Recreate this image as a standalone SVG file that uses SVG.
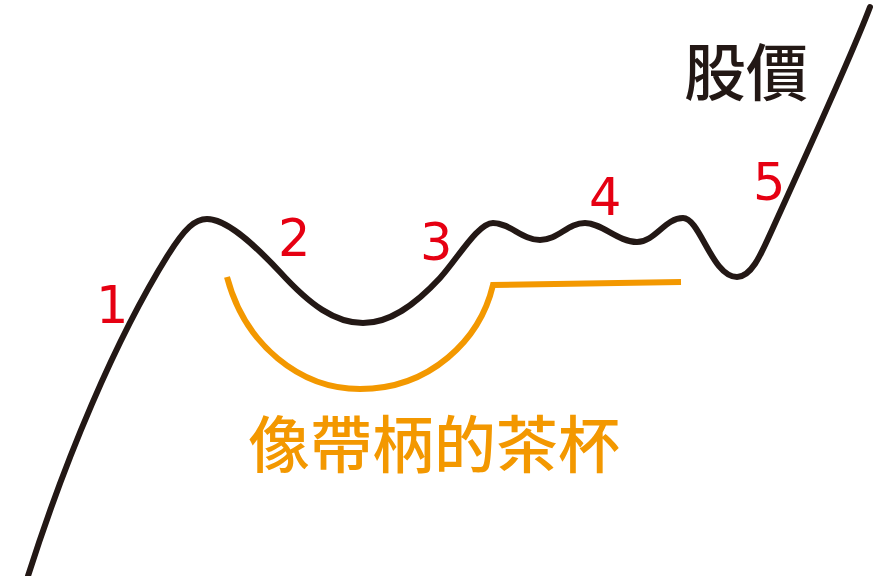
<svg xmlns="http://www.w3.org/2000/svg" width="879" height="576" viewBox="0 0 879 576">
<style>
.line{fill:none;stroke-linecap:round;stroke-width:6}
.price{stroke:#231815}
.cup{stroke:#F39800;stroke-linecap:butt}
.num{font-family:"DejaVu Sans","Liberation Sans",sans-serif;font-size:51px;fill:#E60012}
.cjk{font-family:"Noto Sans CJK TC","Noto Sans CJK SC",sans-serif;font-weight:500}
</style>
<rect width="879" height="576" fill="#ffffff"/>
<g id="curves">
<path class="line price" d="M28,576 C65,460 115,340 168,255 C185,228 195,219 207,219 C225,219 250,240 280,272 C310,305 335,323 363,323 C390,323 415,305 440,278 C458,258 478,223 493,223 C510,223 522,240 540,240 C558,240 568,223 585,223 C602,223 618,242 637,242 C655,242 665,218 683,218 C700,218 712,277 737,277 C752,277 762,252 772,230 C790,190 850,60 870,7"/>
<path class="line cup" d="M227,277 C245,345 300,389 360,389 C430,389 480,340 493,285 L681,282"/>
</g>
<g id="labels">
<text class="num" x="96" y="323">1</text>
<text class="num" x="278" y="256">2</text>
<text class="num" x="420" y="260">3</text>
<text class="num" x="589" y="215">4</text>
<text class="num" x="753" y="200">5</text>
<text class="cjk" x="684" y="96" font-size="62" fill="#231815">股價</text>
<text class="cjk" x="248" y="468" font-size="62" fill="#F39800">像帶柄的茶杯</text>
</g>
</svg>
